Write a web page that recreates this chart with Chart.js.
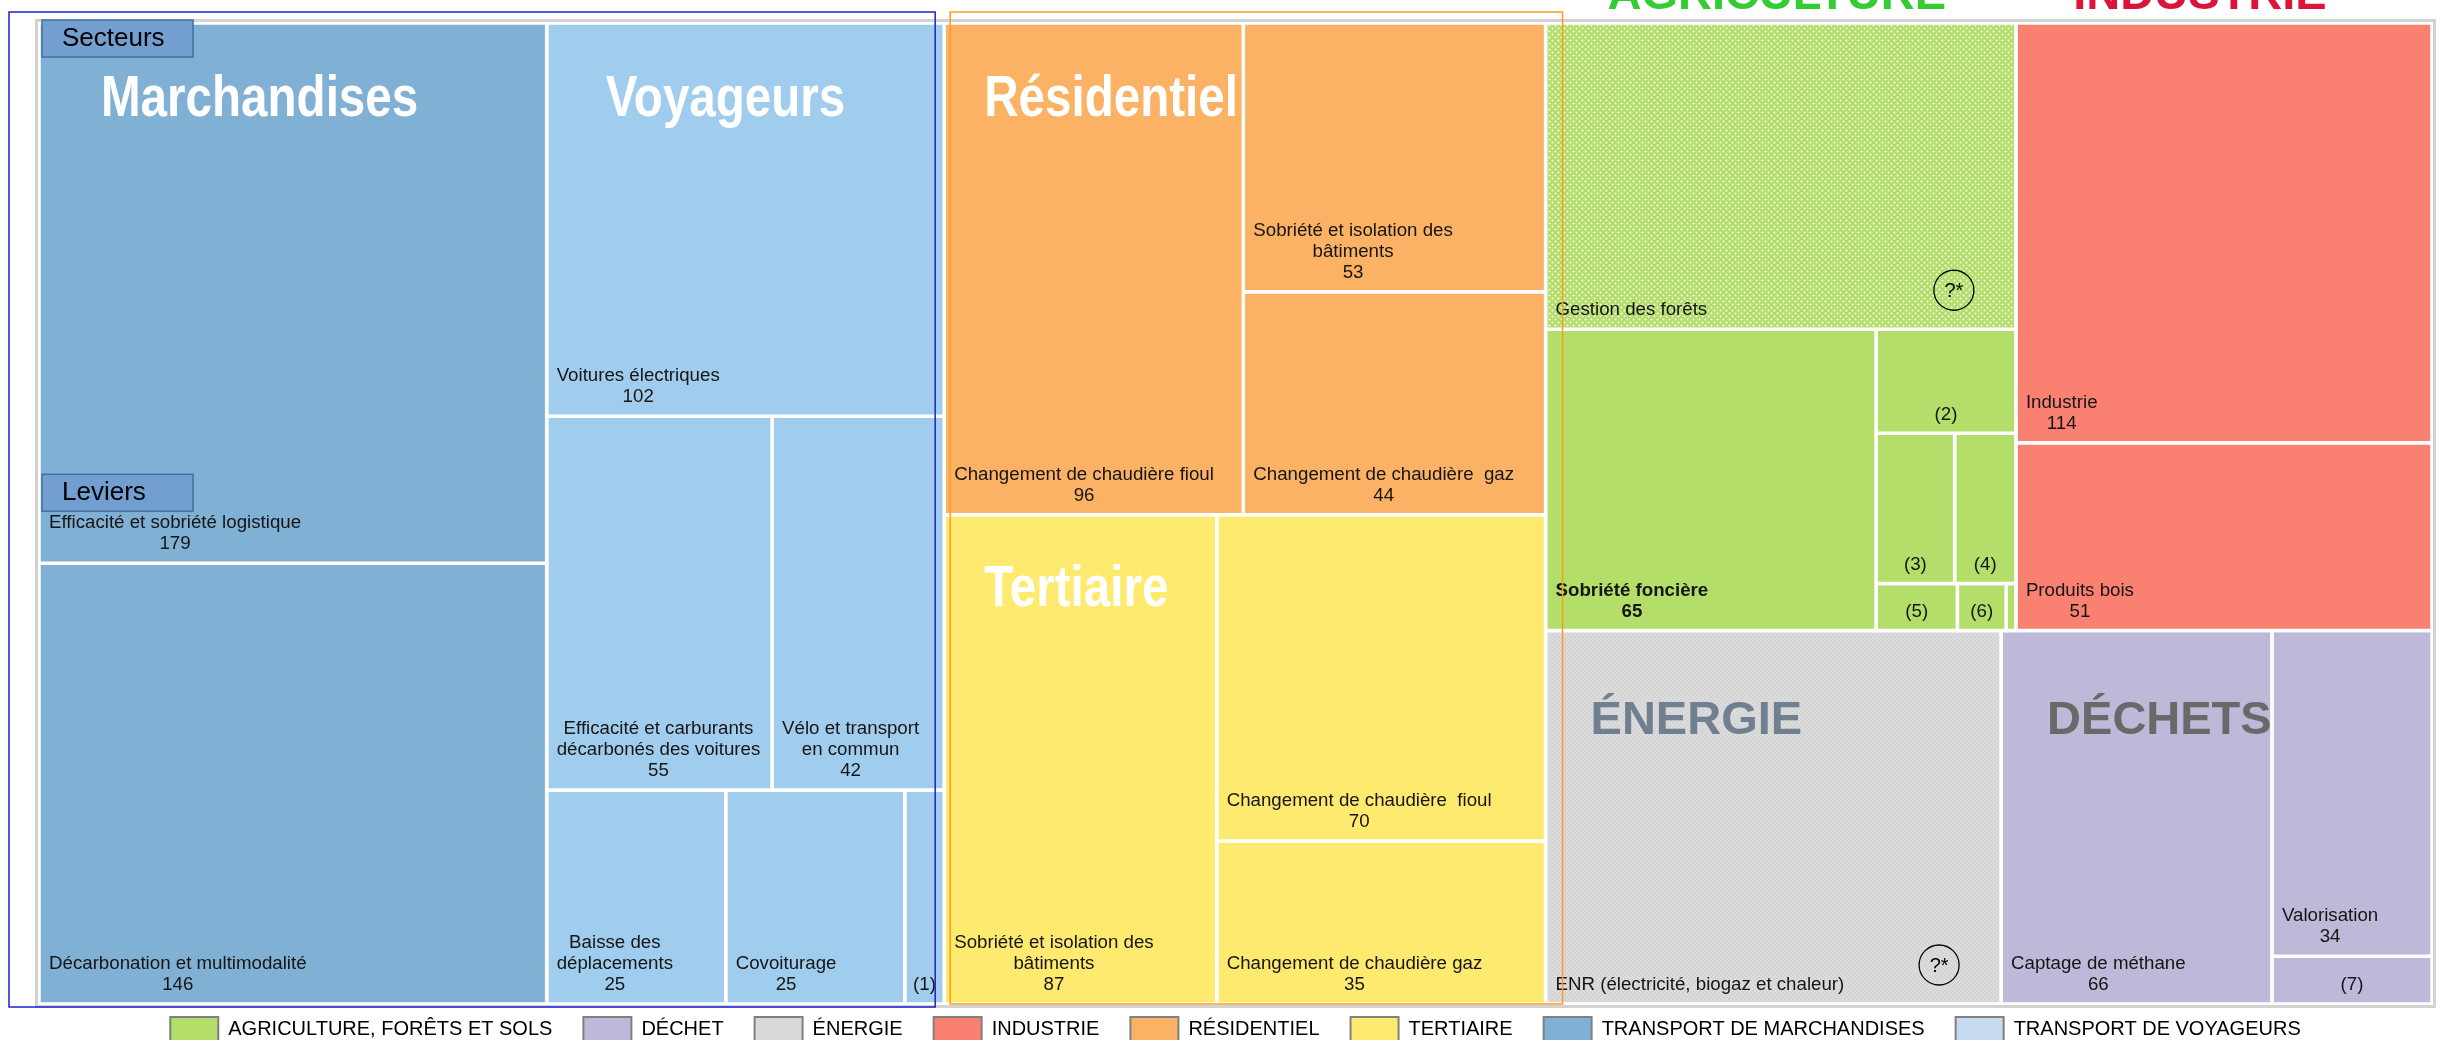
<!DOCTYPE html>
<html lang="fr">
<head>
<meta charset="utf-8">
<title>Leviers de décarbonation par secteur</title>
<script src="https://cdn.jsdelivr.net/npm/chart.js@4.4.1/dist/chart.umd.min.js"></script>
<style>
  html, body { margin: 0; padding: 0; background: #fff; }
  #wrap { width: 2441px; height: 1040px; position: relative; }
</style>
</head>
<body>
<div id="wrap"><canvas id="treemap"></canvas></div>
<script>
// ---- Data ----
const sectorNames = ['AGRICULTURE, FORÊTS ET SOLS', 'DÉCHET', 'ÉNERGIE', 'INDUSTRIE', 'RÉSIDENTIEL', 'TERTIAIRE', 'TRANSPORT DE MARCHANDISES', 'TRANSPORT DE VOYAGEURS'];

const marchandisesLabels = ['Efficacité et sobriété logistique', 'Décarbonation et multimodalité'];
const marchandisesValues = [179, 146];

const voyageursLabels = ['Voitures électriques', 'Efficacité et carburants\ndécarbonés des voitures', 'Vélo et transport\nen commun', 'Baisse des\ndéplacements', 'Covoiturage', '(1)'];
const voyageursValues = [102, 55, 42, 25, 25, 5.5];

const residentielLabels = ['Changement de chaudière fioul', 'Sobriété et isolation des\nbâtiments', 'Changement de chaudière  gaz'];
const residentielValues = [96, 53, 44];

const tertiaireLabels = ['Sobriété et isolation des\nbâtiments', 'Changement de chaudière  fioul', 'Changement de chaudière gaz'];
const tertiaireValues = [87, 70, 35];

const agricultureLabels = ['Gestion des forêts', 'Sobriété foncière', '(2)', '(3)', '(4)', '(5)', '(6)', ''];
const agricultureValues = [94, 65, 9.5, 7.7, 6, 2.5, 1.5, 0.3];

const industrieLabels = ['Industrie', 'Produits bois'];
const industrieValues = [114, 51];

const energieLabels = ['ENR (électricité, biogaz et chaleur)'];
const energieValues = [111];

const dechetsLabels = ['Captage de méthane', 'Valorisation', '(7)'];
const dechetsValues = [66, 34, 5];

// levers whose size is not known (drawn with "?*")
const unknownLevers = ['Gestion des forêts', 'ENR (électricité, biogaz et chaleur)'];
const boldLevers = ['Sobriété foncière'];

// ---- Styles ----
const tileColors = ['#b3de69', '#bdb9d9', '#d9d9d9', '#fa8072', '#fbb264', '#ffea70', '#80b0d3', '#a0cdee'];
const legendColors = ['#b3de69', '#bdb9d9', '#d9d9d9', '#fa8072', '#fbb264', '#ffea70', '#80b0d3', '#c6dbef'];
const sans = '"Liberation Sans", Arial, sans-serif';

function makePattern(bg, dot, size, dots) {
    const c = document.createElement('canvas');
    c.width = size; c.height = size;
    const g = c.getContext('2d');
    g.fillStyle = bg;
    g.fillRect(0, 0, size, size);
    g.fillStyle = dot;
    dots.forEach(([x, y, r]) => { g.beginPath(); g.arc(x, y, r, 0, Math.PI * 2); g.fill(); });
    return g.createPattern(c, 'repeat');
}
const forestPattern = makePattern('#b3de69', 'rgba(255,255,255,0.95)', 6, [[1.5, 1.5, 1], [4.5, 4.5, 1]]);
const energyPattern = makePattern('#d4d4d4', '#ececec', 4, [[1, 1, 0.7], [3, 3, 0.7]]);
const patterns = { 'Gestion des forêts': forestPattern, 'ENR (électricité, biogaz et chaleur)': energyPattern };

const titleStyles = {
    'Marchandises': { dx: 62, dy: 77, color: '#ffffff', narrow: true },
    'Voyageurs': { dx: 59, dy: 77, color: '#ffffff', narrow: true },
    'Résidentiel': { dx: 40, dy: 77, color: '#ffffff', narrow: true },
    'Tertiaire': { dx: 40, dy: 75, color: '#ffffff', narrow: true },
    'ÉNERGIE': { dx: 45, dy: 90, color: '#708090' },
    'DÉCHETS': { dx: 46, dy: 90, color: '#696969' },
    'AGRICULTURE': { above: true, dx: -4, color: '#33cc33' },
    'INDUSTRIE': { above: true, dx: -24, color: '#dc143c' }
};

// ---- Treemap layout (slice and dice with fixed directions) ----
function leaves(labels, values, sector) {
    return labels.map((label, i) => ({ label, value: values[i], sector }));
}
function group(dir, children, title) { return { dir, children, title }; }
function total(n) { return n.children ? n.children.reduce((s, c) => s + total(c), 0) : n.value; }

const M = leaves(marchandisesLabels, marchandisesValues, 6);
const V = leaves(voyageursLabels, voyageursValues, 7);
const R = leaves(residentielLabels, residentielValues, 4);
const T = leaves(tertiaireLabels, tertiaireValues, 5);
const A = leaves(agricultureLabels, agricultureValues, 0);
const I = leaves(industrieLabels, industrieValues, 3);
const E = leaves(energieLabels, energieValues, 2);
const D = leaves(dechetsLabels, dechetsValues, 1);

const transport = group('h', [
    group('v', M, 'Marchandises'),
    group('v', [V[0], group('h', [V[1], V[2]]), group('h', [V[3], V[4], V[5]])], 'Voyageurs')
]);
const batiments = group('v', [
    group('h', [R[0], group('v', [R[1], R[2]])], 'Résidentiel'),
    group('h', [T[0], group('v', [T[1], T[2]])], 'Tertiaire')
]);
const autres = group('v', [
    group('h', [
        group('v', [A[0], group('h', [A[1], group('v', [A[2], group('h', [A[3], A[4]]), group('h', [A[5], A[6], A[7]])])])], 'AGRICULTURE'),
        group('v', I, 'INDUSTRIE')
    ]),
    group('h', [
        group('v', E, 'ÉNERGIE'),
        group('h', [D[0], group('v', [D[1], D[2]])], 'DÉCHETS')
    ])
]);
const root = group('h', [transport, batiments, autres]);

const tiles = [];
const titled = [];
function layout(n, x0, y0, x1, y1) {
    n.rect = { x0, y0, x1, y1 };
    if (n.title) titled.push(n);
    if (!n.children) { tiles.push(n); return; }
    const sum = total(n);
    let pos = n.dir === 'h' ? x0 : y0;
    n.children.forEach(c => {
        const span = (n.dir === 'h' ? x1 - x0 : y1 - y0) * total(c) / sum;
        if (n.dir === 'h') layout(c, pos, y0, pos + span, y1);
        else layout(c, x0, pos, x1, pos + span);
        pos += span;
    });
}
layout(root, 0, 0, 1, 1);

const datasets = tiles.map(t => {
    const r = t.rect;
    return {
        label: t.label,
        data: [{ x: r.x0, y: r.y0 }, { x: r.x1, y: r.y0 }, { x: r.x1, y: r.y1 }, { x: r.x0, y: r.y1 }, { x: r.x0, y: r.y0 }],
        backgroundColor: patterns[t.label] || tileColors[t.sector],
        borderColor: '#ffffff',
        borderWidth: 3.5,
        fill: 'shape',
        pointRadius: 0,
        pointHoverRadius: 0,
        tension: 0
    };
});

// ---- Helpers for drawing on top ----
function pixRect(chart, r) {
    const x = chart.scales.x, y = chart.scales.y;
    return { left: x.getPixelForValue(r.x0), right: x.getPixelForValue(r.x1), top: y.getPixelForValue(r.y0), bottom: y.getPixelForValue(r.y1) };
}

function drawTag(ctx, text, left, top) {
    ctx.fillStyle = '#729fcf';
    ctx.strokeStyle = '#41719c';
    ctx.lineWidth = 1.5;
    ctx.fillRect(left, top, 151, 37);
    ctx.strokeRect(left, top, 151, 37);
    ctx.fillStyle = '#000';
    ctx.font = '26px ' + sans;
    ctx.textAlign = 'left';
    ctx.textBaseline = 'middle';
    ctx.fillText(text, left + 20, top + 19);
}

const treemapDecor = {
    id: 'treemapDecor',
    beforeDatasetsDraw(chart) {
        const { ctx, chartArea: a } = chart;
        ctx.save();
        ctx.strokeStyle = '#d2d2d2';
        ctx.lineWidth = 3;
        ctx.strokeRect(a.left - 2.5, a.top - 2.5, a.right - a.left + 5, a.bottom - a.top + 5);
        ctx.restore();
    },
    afterDatasetsDraw(chart) {
        const { ctx, chartArea: a } = chart;
        ctx.save();
        // lever labels
        tiles.forEach(t => {
            if (!t.label) return;
            const r = pixRect(chart, t.rect);
            const isCode = /^\(\d\)$/.test(t.label);
            const unknown = unknownLevers.includes(t.label);
            const lines = t.label.split('\n');
            if (!isCode && !unknown) lines.push(String(t.value));
            ctx.font = (boldLevers.includes(t.label) ? 'bold ' : '') + '18.7px ' + sans;
            ctx.fillStyle = '#151515';
            ctx.textAlign = 'center';
            ctx.textBaseline = 'middle';
            const w = Math.max(...lines.map(l => ctx.measureText(l).width));
            const cx = isCode ? (r.left + r.right) / 2 : r.left + 10 + w / 2;
            lines.forEach((line, i) => ctx.fillText(line, cx, r.bottom - 19 - (lines.length - 1 - i) * 21));
            if (unknown) {
                const ux = r.right - 62, uy = r.bottom - 39;
                ctx.beginPath();
                ctx.arc(ux, uy, 20, 0, Math.PI * 2);
                ctx.strokeStyle = '#000';
                ctx.lineWidth = 1.3;
                ctx.stroke();
                ctx.fillStyle = '#000';
                ctx.font = '20px ' + sans;
                ctx.fillText('?*', ux, uy + 1);
            }
        });
        // sector titles
        titled.forEach(n => {
            const s = titleStyles[n.title];
            const r = pixRect(chart, n.rect);
            ctx.fillStyle = s.color;
            ctx.textBaseline = 'middle';
            if (s.above) {
                ctx.font = 'bold 47px ' + sans;
                ctx.textAlign = 'center';
                ctx.textBaseline = 'alphabetic';
                ctx.fillText(n.title, (r.left + r.right) / 2 + s.dx, a.top - 14);
            } else if (s.narrow) {
                ctx.save();
                ctx.font = 'bold 58px ' + sans;
                ctx.textAlign = 'left';
                ctx.translate(r.left + s.dx, r.top + s.dy);
                ctx.scale(0.82, 1);
                ctx.fillText(n.title, 0, 0);
                ctx.restore();
            } else {
                ctx.font = 'bold 47px ' + sans;
                ctx.textAlign = 'left';
                ctx.fillText(n.title, r.left + s.dx, r.top + s.dy);
            }
        });
        // annotation frames
        const tr = pixRect(chart, transport.rect);
        const br = pixRect(chart, batiments.rect);
        ctx.lineWidth = 1.5;
        ctx.strokeStyle = '#1f1fd0';
        ctx.strokeRect(tr.left - 30, a.top - 11, tr.right - 9 - (tr.left - 30), a.bottom + 3 - (a.top - 11));
        ctx.strokeStyle = '#ff9a1f';
        ctx.strokeRect(br.left + 6, a.top - 11, br.right + 17 - (br.left + 6), a.bottom - (a.top - 11));
        // tags
        drawTag(ctx, 'Secteurs', a.left + 3, a.top - 3);
        const first = pixRect(chart, tiles[0].rect);
        drawTag(ctx, 'Leviers', a.left + 3, first.bottom - 89);
        ctx.restore();
    }
};

// legend sits lower than its box, so the chart area can reach down to it
const legendPlacement = {
    id: 'legendPlacement',
    beforeInit(chart) {
        const legend = chart.legend;
        const fit = legend.fit;
        legend.fit = function () { fit.call(this); this.height = 36; };
        const draw = legend.draw;
        legend.draw = function () { this.top -= 18; draw.call(this); this.top += 18; };
    }
};

new Chart(document.getElementById('treemap'), {
    type: 'line',
    data: { datasets },
    options: {
        responsive: true,
        maintainAspectRatio: false,
        animation: false,
        events: [],
        layout: { padding: { left: 39, top: 23, right: 9, bottom: 0 } },
        scales: {
            x: { type: 'linear', min: 0, max: 1, display: false },
            y: { type: 'linear', min: 0, max: 1, reverse: true, display: false }
        },
        plugins: {
            tooltip: { enabled: false },
            legend: {
                position: 'bottom',
                onClick: null,
                labels: {
                    boxWidth: 48,
                    boxHeight: 25,
                    padding: 31,
                    color: '#595959',
                    font: { family: sans, size: 20 },
                    generateLabels: () => sectorNames.map((name, i) => ({
                        text: name,
                        fillStyle: legendColors[i],
                        strokeStyle: '#808080',
                        lineWidth: 2,
                        hidden: false,
                        index: i
                    }))
                }
            }
        }
    },
    plugins: [treemapDecor, legendPlacement]
});
</script>
</body>
</html>
